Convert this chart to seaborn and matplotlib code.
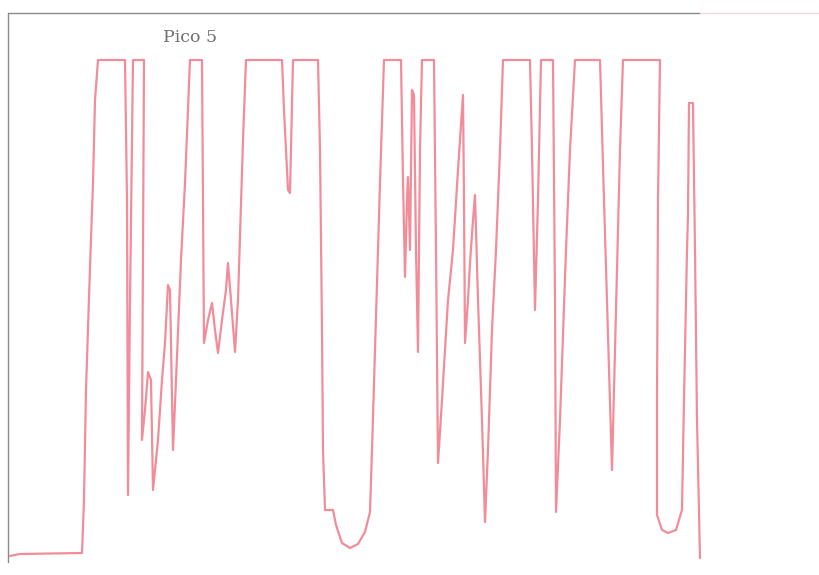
import matplotlib
matplotlib.use("Agg")

import matplotlib.pyplot as plt
import pandas as pd
import seaborn as sns
from matplotlib.lines import Line2D

times = [10, 20, 82, 84, 86, 90, 93, 95, 98,
         125, 127, 128, 130, 133, 144, 142, 145, 148, 151, 153, 158, 162, 165, 168, 170, 173, 176, 181, 185, 190,
         202, 203, 204, 208, 212, 215, 218, 222, 226, 228, 231, 235, 238, 243, 246,
         282, 284, 288, 290, 293, 318, 320, 322, 323, 325, 333, 336, 342, 350, 358, 365, 370, 372, 375, 380, 384,
         401, 403, 405, 407, 408, 410, 412, 414, 416, 418, 420, 422, 434, 436, 438, 442, 448, 453, 458, 463,
         464, 465, 468, 470, 473, 475, 478, 482, 485, 488, 492, 496, 500, 503,
         530, 532, 535, 538, 541, 553, 555, 556, 560, 566, 570, 575,
         600, 604, 610, 612, 615, 620, 623, 660, 658, 657, 657, 662, 668, 676, 682, 684, 687, 688, 689, 693,
         695, 697, 700]
levels = [556, 554, 553, 500, 390, 267, 183, 100, 60,
          60, 200, 495, 300, 60, 60, 440, 410, 372, 380, 490, 440, 380, 343, 285, 290, 450, 380, 260, 183, 60,
          60, 200, 343, 320, 303, 330, 353, 320, 290, 263, 300, 352, 300, 140, 60,
          60, 110, 190, 193, 60, 60, 150, 330, 450, 510, 510, 525, 543, 548, 544, 532, 512, 450, 350, 183, 60,
          60, 180, 277, 200, 177, 250, 90, 95, 250, 352, 150, 60, 60, 250, 463, 400, 300, 250, 170, 95,
          200, 343, 300, 263, 220, 195, 300, 420, 522, 450, 330, 250, 150, 60,
          60, 150, 310, 200, 60, 60, 300, 512, 420, 250, 150, 60,
          60, 200, 400, 470, 350, 150, 60, 60, 200, 400, 515, 530, 533, 530, 510, 400, 250, 215, 103, 103,
          250, 420, 558]

df = pd.DataFrame({"time": times, "level": levels})

sns.set_style("white")

fig = plt.figure(figsize=(8.19, 5.75), dpi=100)
ax = fig.add_axes([0, 0, 1, 1])

sns.lineplot(data=df, x="time", y="level", sort=False, estimator=None,
             color="#f38c99", linewidth=1.6, ax=ax)

ax.set_xlim(0, 819)
ax.set_ylim(575, 0)
ax.axis("off")

# scanned frame (top and left edges only survive)
fig.add_artist(Line2D([8 / 819, 700 / 819], [1 - 13 / 575, 1 - 13 / 575],
                      color="#8a8a8a", lw=1.0))
fig.add_artist(Line2D([700 / 819, 819 / 819], [1 - 13 / 575, 1 - 13 / 575],
                      color="#f0d8e0", lw=1.0))
fig.add_artist(Line2D([8 / 819, 8 / 819], [1 - 13 / 575, 1 - 562 / 575],
                      color="#8a8a8a", lw=1.0))

fig.text(163 / 819, 1 - 38 / 575, "Pico 5", family="DejaVu Serif",
         fontsize=12.5, color="#707070", va="center", ha="left")

fig.savefig("out.png", dpi=100)
